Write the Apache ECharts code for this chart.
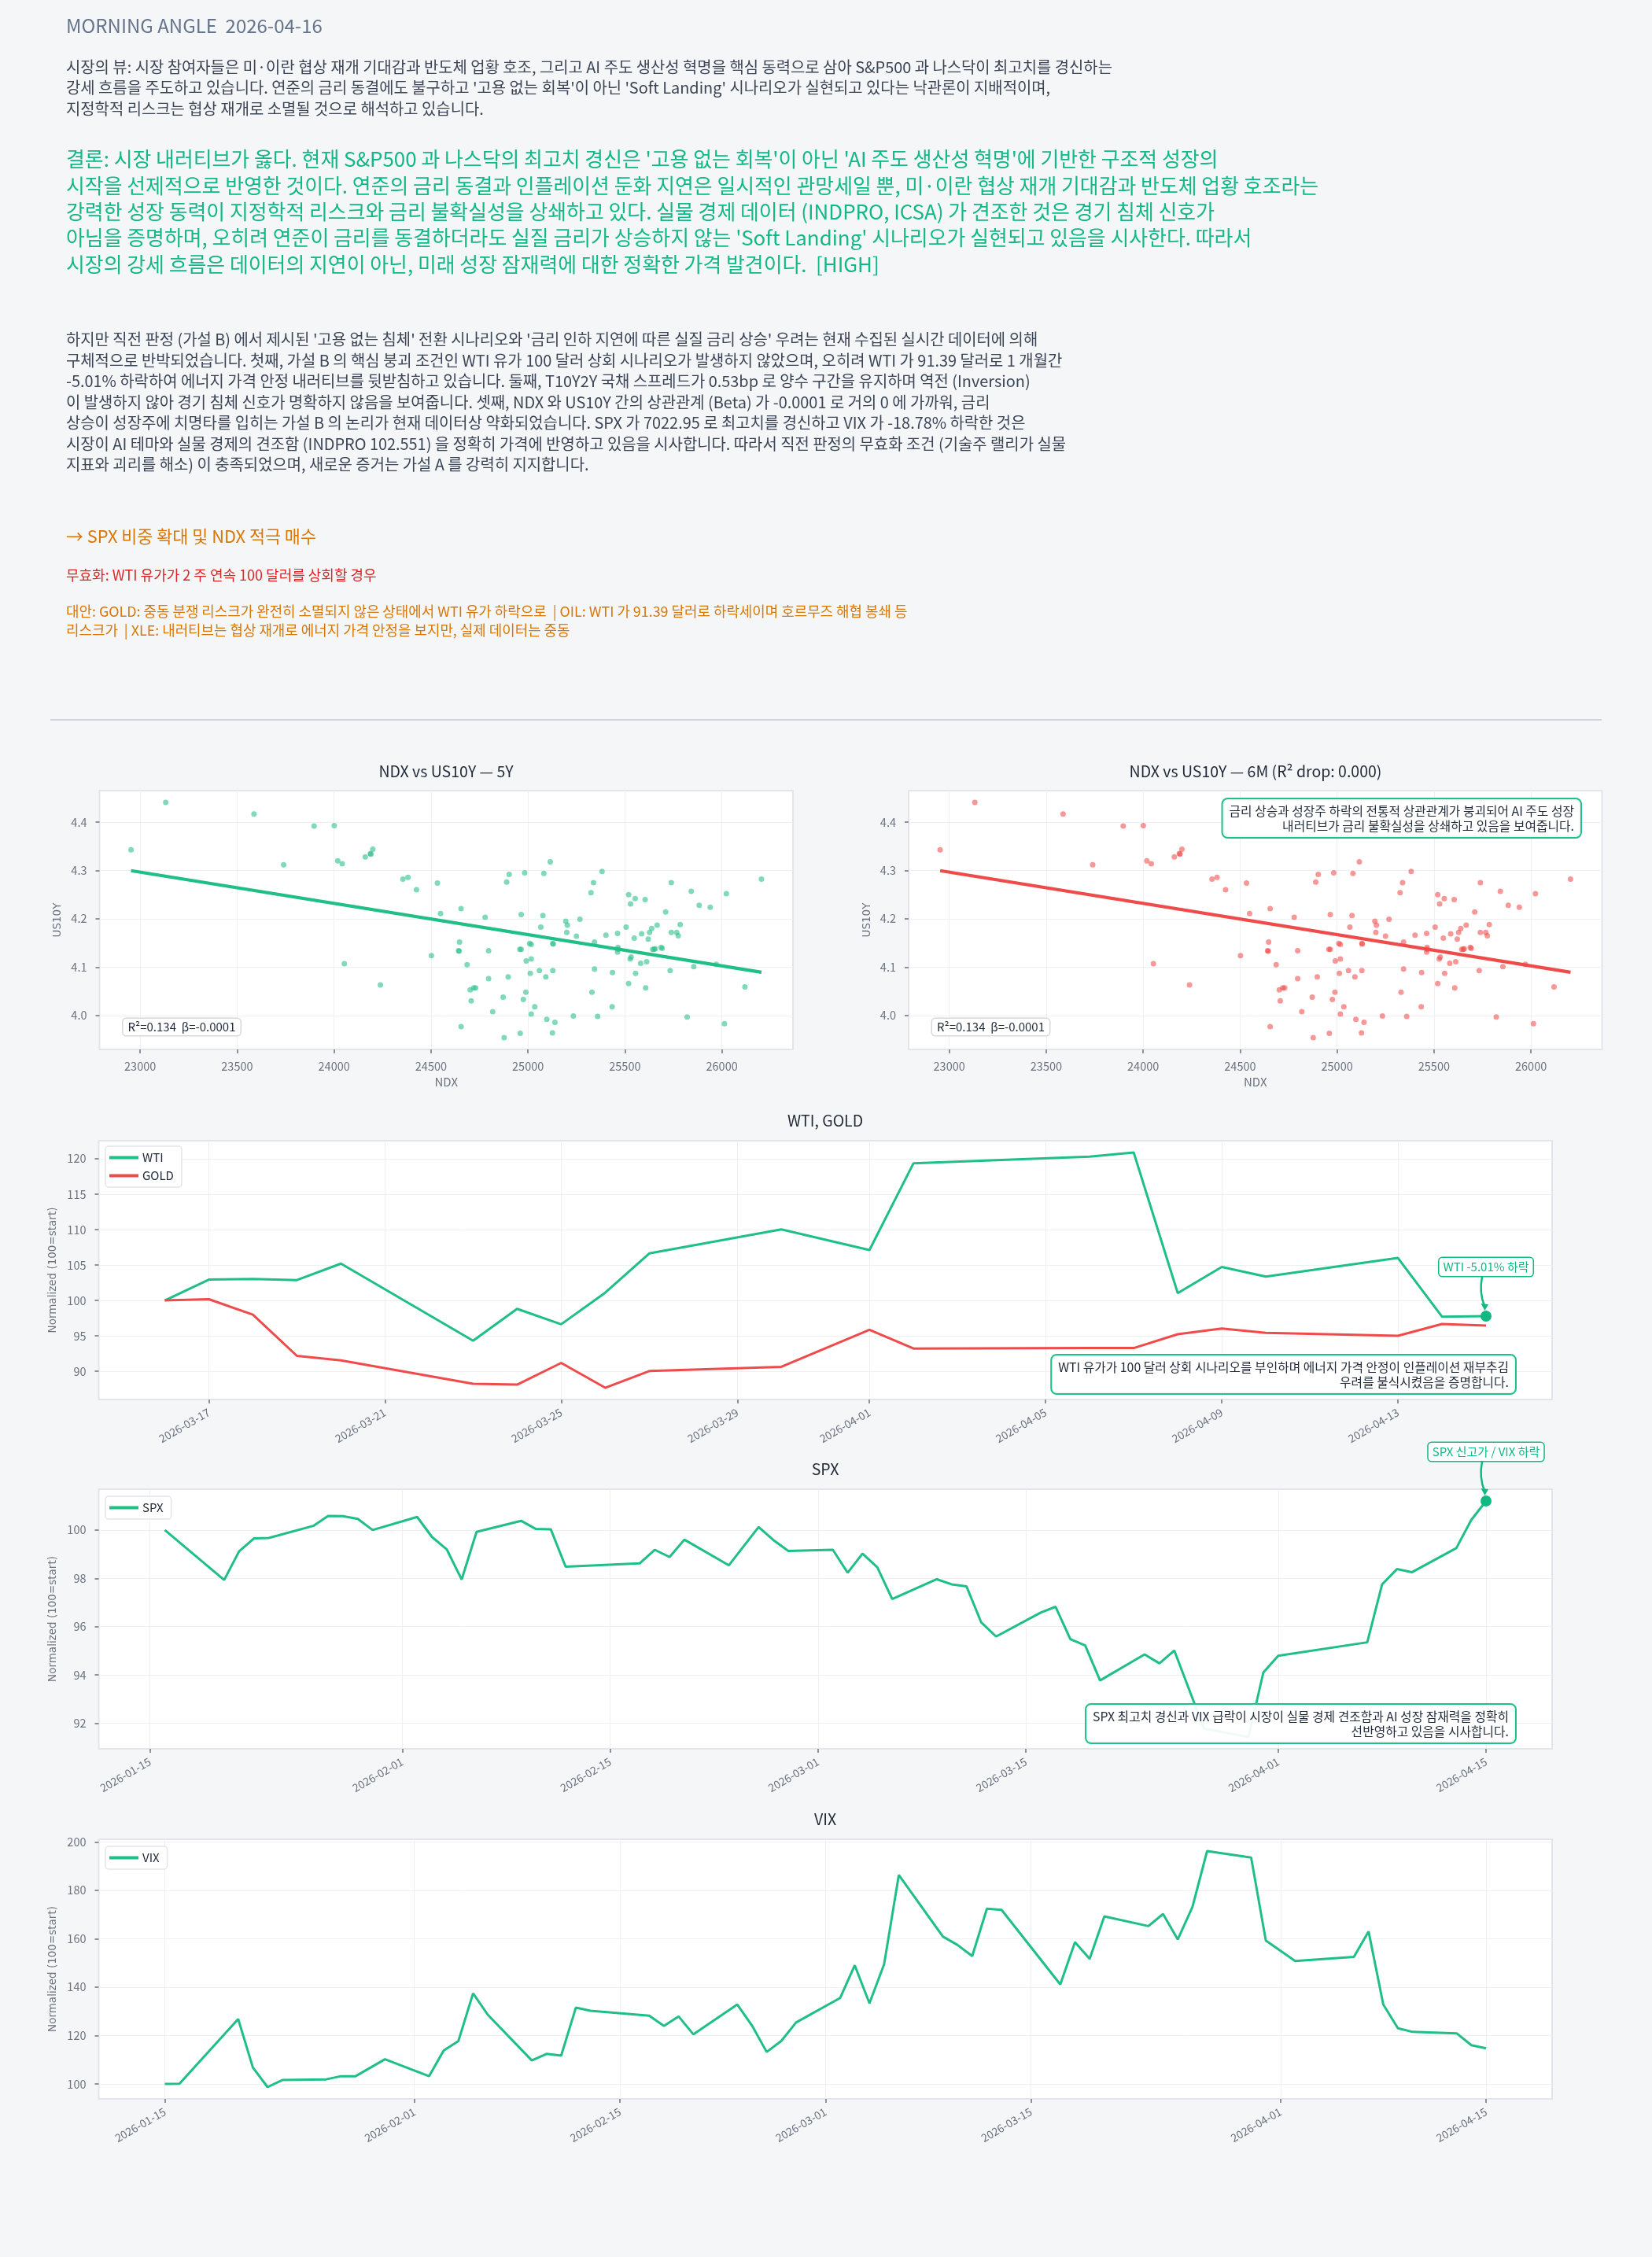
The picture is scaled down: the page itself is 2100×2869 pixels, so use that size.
<!DOCTYPE html>
<html><head><meta charset="utf-8">
<script src="https://cdn.jsdelivr.net/npm/echarts@6/dist/echarts.min.js"></script>
<style>html,body{margin:0;padding:0;background:#f5f6f8;}#c{width:2100px;height:2869px;}</style>
</head><body><div id="c"></div>
<script>
// ---------------- DATA ----------------
const ndx = [22953,23132,23587,23740,23897,24001,24019,24042,24053,24161,
24187,24190,24200,24239,24355,24381,24425,24502,24533,24549,
24642,24645,24647,24655,24655,24686,24702,24707,24720,24730,
24779,24797,24797,24818,24877,24872,24890,24898,24903,24958,
24965,24960,24965,24976,24983,24989,24991,25009,25017,25017,
25012,25017,25035,25059,25066,25077,25082,25092,25097,25115,
25126,25128,25128,25130,25139,25195,25203,25200,25234,25250,
25268,25325,25330,25338,25343,25343,25359,25382,25402,25436,
25434,25462,25464,25464,25462,25506,25519,25529,25519,25527,
25532,25548,25553,25555,25581,25586,25604,25607,25612,25620,
25627,25638,25643,25651,25656,25666,25687,25692,25710,25733,
25739,25739,25767,25775,25785,25821,25842,25855,25883,25940,
25971,26013,26023,26119,26204];
const us10y = [4.343,4.441,4.417,4.312,4.392,4.393,4.320,4.314,4.107,4.328,
4.335,4.334,4.344,4.063,4.282,4.286,4.260,4.124,4.274,4.211,
4.134,4.133,4.152,4.221,3.977,4.105,4.053,4.030,4.057,4.057,
4.203,4.134,4.076,4.008,3.954,4.038,4.276,4.080,4.292,4.137,
4.137,3.963,4.209,4.033,4.295,4.048,4.113,4.149,4.147,4.117,
4.087,4.003,4.018,4.093,4.183,4.207,4.294,4.080,3.992,4.318,
3.964,4.093,4.149,4.148,3.986,4.195,4.187,4.172,3.999,4.164,
4.199,4.254,4.048,4.275,4.096,4.152,3.998,4.298,4.166,4.089,
4.018,4.170,4.141,4.137,4.131,4.183,4.250,4.231,4.066,4.117,
4.121,4.160,4.242,4.087,4.108,4.169,4.240,4.057,4.111,4.158,
4.172,4.180,4.137,4.137,4.138,4.187,4.141,4.139,4.214,4.093,
4.172,4.275,4.172,4.165,4.188,3.997,4.257,4.101,4.228,4.224,
4.106,3.983,4.252,4.059,4.282];
const regX = [22953, 26204];
const regY = [4.2997, 4.0894];
const scatterXTicks = [23000,23500,24000,24500,25000,25500,26000];
const scatterYTicks = [4.0,4.1,4.2,4.3,4.4];

const cmdDates = ['2026-03-16','2026-03-17','2026-03-18','2026-03-19','2026-03-20','2026-03-23','2026-03-24','2026-03-25','2026-03-26','2026-03-27','2026-03-30','2026-04-01','2026-04-02','2026-04-06','2026-04-07','2026-04-08','2026-04-09','2026-04-10','2026-04-13','2026-04-14','2026-04-15'];
const wti  = [100,102.95,103.03,102.88,105.2,94.32,98.82,96.64,101.1,106.64,110.04,107.12,119.37,120.3,120.89,101.03,104.72,103.36,106.0,97.71,97.79];
const gold = [100,100.18,98.0,92.18,91.55,88.23,88.12,91.18,87.68,90.04,90.63,95.87,93.21,93.28,93.28,95.24,96.05,95.42,95.02,96.68,96.46];
const cmdXTicks = ['2026-03-17','2026-03-21','2026-03-25','2026-03-29','2026-04-01','2026-04-05','2026-04-09','2026-04-13'];
const cmdYTicks = [90,95,100,105,110,115,120];

const spxDates = ['2026-01-16','2026-01-20','2026-01-21','2026-01-22','2026-01-23','2026-01-26','2026-01-27','2026-01-28','2026-01-29','2026-01-30',
'2026-02-02','2026-02-03','2026-02-04','2026-02-05','2026-02-06','2026-02-09','2026-02-10','2026-02-11','2026-02-12','2026-02-17',
'2026-02-18','2026-02-19','2026-02-20','2026-02-23','2026-02-25','2026-02-26','2026-02-27','2026-03-02','2026-03-03','2026-03-04',
'2026-03-05','2026-03-06','2026-03-09','2026-03-10','2026-03-11','2026-03-12','2026-03-13','2026-03-16','2026-03-17','2026-03-18',
'2026-03-19','2026-03-20','2026-03-23','2026-03-24','2026-03-25','2026-03-27','2026-03-30','2026-03-31','2026-04-01','2026-04-07',
'2026-04-08','2026-04-09','2026-04-10','2026-04-13','2026-04-14','2026-04-15'];
const spx = [100,97.93,99.11,99.65,99.67,100.17,100.58,100.57,100.46,100.0,
100.54,99.71,99.19,97.95,99.92,100.38,100.04,100.03,98.48,98.62,
99.18,98.88,99.6,98.54,100.12,99.58,99.13,99.18,98.23,99.02,
98.45,97.14,97.96,97.75,97.67,96.17,95.59,96.58,96.82,95.48,
95.22,93.77,94.85,94.48,95.01,91.78,91.43,94.1,94.79,95.35,
97.75,98.38,98.25,99.25,100.41,101.2];
const spxYTicks = [92,94,96,98,100];

const vixDates = ['2026-01-15','2026-01-16','2026-01-20','2026-01-21','2026-01-22','2026-01-23','2026-01-26','2026-01-27','2026-01-28','2026-01-30',
'2026-02-02','2026-02-03','2026-02-04','2026-02-05','2026-02-06','2026-02-09','2026-02-10','2026-02-11','2026-02-12','2026-02-13',
'2026-02-17','2026-02-18','2026-02-19','2026-02-20','2026-02-23','2026-02-24','2026-02-25','2026-02-26','2026-02-27','2026-03-02',
'2026-03-03','2026-03-04','2026-03-05','2026-03-06','2026-03-09','2026-03-10','2026-03-11','2026-03-12','2026-03-13','2026-03-17',
'2026-03-18','2026-03-19','2026-03-20','2026-03-23','2026-03-24','2026-03-25','2026-03-26','2026-03-27','2026-03-30','2026-03-31',
'2026-04-02','2026-04-06','2026-04-07','2026-04-08','2026-04-09','2026-04-10','2026-04-13','2026-04-14','2026-04-15'];
const vix = [100,100.1,126.8,106.8,98.7,101.6,101.9,103.2,103.2,110.2,
103.2,113.8,117.7,137.4,128.6,109.7,112.4,111.7,131.5,130.2,
128.2,124.0,127.9,120.5,132.8,124.1,113.2,117.8,125.4,135.5,
149.0,133.3,149.5,186.3,160.9,157.4,152.8,172.4,171.9,141.1,
158.6,151.7,169.2,165.2,170.2,159.7,173.1,196.2,193.5,159.2,
150.8,152.5,163.0,132.8,123.0,121.5,120.9,116.0,114.7];
const vixYTicks = [100,120,140,160,180,200];
const longXTicks = ['2026-01-15','2026-02-01','2026-02-15','2026-03-01','2026-03-15','2026-04-01','2026-04-15'];

// ---------------- TEXT ----------------
const headerTitle = 'MORNING ANGLE  2026-04-16';
const viewLines = [
 '시장의 뷰: 시장 참여자들은 미·이란 협상 재개 기대감과 반도체 업황 호조, 그리고 AI 주도 생산성 혁명을 핵심 동력으로 삼아 S&P500 과 나스닥이 최고치를 경신하는',
 "강세 흐름을 주도하고 있습니다. 연준의 금리 동결에도 불구하고 '고용 없는 회복'이 아닌 'Soft Landing' 시나리오가 실현되고 있다는 낙관론이 지배적이며,",
 '지정학적 리스크는 협상 재개로 소멸될 것으로 해석하고 있습니다.'];
const conclusionLines = [
 "결론: 시장 내러티브가 옳다. 현재 S&P500 과 나스닥의 최고치 경신은 '고용 없는 회복'이 아닌 'AI 주도 생산성 혁명'에 기반한 구조적 성장의",
 '시작을 선제적으로 반영한 것이다. 연준의 금리 동결과 인플레이션 둔화 지연은 일시적인 관망세일 뿐, 미·이란 협상 재개 기대감과 반도체 업황 호조라는',
 '강력한 성장 동력이 지정학적 리스크와 금리 불확실성을 상쇄하고 있다. 실물 경제 데이터 (INDPRO, ICSA) 가 견조한 것은 경기 침체 신호가',
 "아님을 증명하며, 오히려 연준이 금리를 동결하더라도 실질 금리가 상승하지 않는 'Soft Landing' 시나리오가 실현되고 있음을 시사한다. 따라서",
 '시장의 강세 흐름은 데이터의 지연이 아닌, 미래 성장 잠재력에 대한 정확한 가격 발견이다.  [HIGH]'];
const bodyLines = [
 "하지만 직전 판정 (가설 B) 에서 제시된 '고용 없는 침체' 전환 시나리오와 '금리 인하 지연에 따른 실질 금리 상승' 우려는 현재 수집된 실시간 데이터에 의해",
 '구체적으로 반박되었습니다. 첫째, 가설 B 의 핵심 붕괴 조건인 WTI 유가 100 달러 상회 시나리오가 발생하지 않았으며, 오히려 WTI 가 91.39 달러로 1 개월간',
 '-5.01% 하락하여 에너지 가격 안정 내러티브를 뒷받침하고 있습니다. 둘째, T10Y2Y 국채 스프레드가 0.53bp 로 양수 구간을 유지하며 역전 (Inversion)',
 '이 발생하지 않아 경기 침체 신호가 명확하지 않음을 보여줍니다. 셋째, NDX 와 US10Y 간의 상관관계 (Beta) 가 -0.0001 로 거의 0 에 가까워, 금리',
 '상승이 성장주에 치명타를 입히는 가설 B 의 논리가 현재 데이터상 약화되었습니다. SPX 가 7022.95 로 최고치를 경신하고 VIX 가 -18.78% 하락한 것은',
 '시장이 AI 테마와 실물 경제의 견조함 (INDPRO 102.551) 을 정확히 가격에 반영하고 있음을 시사합니다. 따라서 직전 판정의 무효화 조건 (기술주 랠리가 실물',
 '지표와 괴리를 해소) 이 충족되었으며, 새로운 증거는 가설 A 를 강력히 지지합니다.'];
const actionText = '→ SPX 비중 확대 및 NDX 적극 매수';
const invalidText = '무효화: WTI 유가가 2 주 연속 100 달러를 상회할 경우';
const altLines = [
 '대안: GOLD: 중동 분쟁 리스크가 완전히 소멸되지 않은 상태에서 WTI 유가 하락으로  | OIL: WTI 가 91.39 달러로 하락세이며 호르무즈 해협 봉쇄 등',
 '리스크가  | XLE: 내러티브는 협상 재개로 에너지 가격 안정을 보지만, 실제 데이터는 중동'];
const statsText = 'R²=0.134  β=-0.0001';
const scatterNote = '금리 상승과 성장주 하락의 전통적 상관관계가 붕괴되어 AI 주도 성장\n내러티브가 금리 불확실성을 상쇄하고 있음을 보여줍니다.';
const wtiNote = 'WTI 유가가 100 달러 상회 시나리오를 부인하며 에너지 가격 안정이 인플레이션 재부추김\n우려를 불식시켰음을 증명합니다.';
const spxNote = 'SPX 최고치 경신과 VIX 급락이 시장이 실물 경제 견조함과 AI 성장 잠재력을 정확히\n선반영하고 있음을 시사합니다.';
const wtiTag = 'WTI -5.01% 하락';
const spxTag = 'SPX 신고가 / VIX 하락';

// ---------------- HELPERS ----------------
const FONT = '"Noto Sans CJK KR","Noto Sans",sans-serif';
const DV = '"DejaVu Sans",sans-serif';
const GREEN = '#1fbf86', RED = '#ef4b4b', DOT = '#10b981';
const GRAY = '#6b7280', DARK = '#1f2937';
const ts = s => { const [y,m,d] = s.split('-').map(Number); return Date.UTC(y,m-1,d); };
const pad2 = n => (n<10?'0':'')+n;
const fmtDate = v => { const d = new Date(v); return d.getUTCFullYear()+'-'+pad2(d.getUTCMonth()+1)+'-'+pad2(d.getUTCDate()); };
function padRange(arr){ const mn=Math.min(...arr), mx=Math.max(...arr), p=(mx-mn)*0.05; return [mn-p, mx+p]; }
const zip = (a,b) => a.map((v,i)=>[v,b[i]]);

const grids = [
 {left:126.5, top:1005, width:881.5, height:329},
 {left:1155, top:1005, width:881.5, height:329},
 {left:125.5, top:1450, width:1847.5, height:329},
 {left:125.5, top:1893, width:1847.5, height:330},
 {left:125.5, top:2338, width:1847.5, height:330}
].map(g => Object.assign({show:true, backgroundColor:'#ffffff', borderColor:'#e3e5ea', borderWidth:2, containLabel:false, outerBoundsMode:'none'}, g));

function axis(gridIndex, range, ticks, fmt, extra){
  return Object.assign({
    type:'value', gridIndex, min:range[0], max:range[1], scale:true,
    axisLine:{show:false},
    axisTick:{show:true, length:5, lineStyle:{color:GRAY, width:1.5}, customValues:ticks},
    axisLabel:{customValues:ticks, formatter:fmt, color:GRAY, fontSize:14.5, fontFamily:FONT, margin:14},
    splitLine:{show:true, lineStyle:{color:'#eef0f3', width:1}}
  }, extra || {});
}

const sxR = padRange(ndx), syR = padRange(us10y);
const cmdT = cmdDates.map(ts), spxT = spxDates.map(ts), vixT = vixDates.map(ts);
const cmdXR = padRange(cmdT), cmdYR = padRange(wti.concat(gold));
const spxXR = padRange(spxT), spxYR = padRange(spx);
const vixXR = padRange(vixT), vixYR = padRange(vix);

const xName = {name:'NDX', nameLocation:'middle', nameGap:34, nameTextStyle:{color:GRAY, fontSize:15, fontFamily:FONT}};
const yName = n => ({name:n, nameLocation:'middle', nameGap:46, nameTextStyle:{color:GRAY, fontSize:13.5, fontFamily:DV}});
const rotLabel = {rotate:30, margin:15, fontSize:14};

function dateAxis(gi, range, ticks){
  const a = axis(gi, range, ticks.map(ts), fmtDate);
  Object.assign(a.axisLabel, rotLabel);
  return a;
}

const xAxes = [
  axis(0, sxR, scatterXTicks, v=>String(Math.round(v)), xName),
  axis(1, sxR, scatterXTicks, v=>String(Math.round(v)), xName),
  dateAxis(2, cmdXR, cmdXTicks),
  dateAxis(3, spxXR, longXTicks),
  dateAxis(4, vixXR, longXTicks)
];
const yAxes = [
  axis(0, syR, scatterYTicks, v=>v.toFixed(1), yName('US10Y')),
  axis(1, syR, scatterYTicks, v=>v.toFixed(1), yName('US10Y')),
  axis(2, cmdYR, cmdYTicks, v=>String(v), yName('Normalized (100=start)')),
  axis(3, spxYR, spxYTicks, v=>String(v), yName('Normalized (100=start)')),
  axis(4, vixYR, vixYTicks, v=>String(v), yName('Normalized (100=start)'))
];
yAxes.forEach(a => { a.axisLabel.margin = 16; });

const lineS = (name, gi, xs, ys, color, extra) => Object.assign({
  name, type:'line', xAxisIndex:gi, yAxisIndex:gi, data:zip(xs, ys),
  symbol:'none', lineStyle:{width:3, color}, itemStyle:{color}, z:3
}, extra || {});
const lastMark = (x, y) => ({symbol:'circle', symbolSize:14, silent:true, itemStyle:{color:DOT}, label:{show:false}, data:[{coord:[x,y]}]});

const series = [
  {name:'s5y', type:'scatter', xAxisIndex:0, yAxisIndex:0, data:zip(ndx, us10y), symbolSize:7, itemStyle:{color:'#2bbf8a', opacity:0.6}},
  lineS('reg5y', 0, regX, regY, GREEN, {lineStyle:{width:4.2, color:GREEN}}),
  {name:'s6m', type:'scatter', xAxisIndex:1, yAxisIndex:1, data:zip(ndx, us10y), symbolSize:7, itemStyle:{color:'#ef4444', opacity:0.55}},
  lineS('reg6m', 1, regX, regY, RED, {lineStyle:{width:4.2, color:RED}}),
  lineS('WTI', 2, cmdT, wti, GREEN, {markPoint:lastMark(cmdT[cmdT.length-1], wti[wti.length-1])}),
  lineS('GOLD', 2, cmdT, gold, RED),
  lineS('SPX', 3, spxT, spx, GREEN, {markPoint:lastMark(spxT[spxT.length-1], spx[spx.length-1])}),
  lineS('VIX', 4, vixT, vix, GREEN)
];

const legendBase = {orient:'vertical', icon:'rect', itemWidth:37, itemHeight:4, itemGap:8,
  backgroundColor:'#ffffff', borderColor:'#e3e5ea', borderWidth:1.5, borderRadius:4, padding:[7,10,7,5],
  textStyle:{fontSize:15, color:DARK, fontFamily:FONT}, selectedMode:false};
const legends = [
  Object.assign({data:['WTI','GOLD'], left:134, top:1457}, legendBase),
  Object.assign({data:['SPX'], left:134, top:1902}, legendBase),
  Object.assign({data:['VIX'], left:134, top:2347}, legendBase)
];

function T(x, y, text, o){
  const st = Object.assign({text, fill:'#374151', fontSize:18, fontFamily:FONT, align:'left', verticalAlign:'top'}, o || {});
  st.textAlign = st.align; st.textVerticalAlign = st.verticalAlign;
  return {type:'text', x, y, z:100, silent:true, style:st};
}
const noteBox = {align:'right', verticalAlign:'top', fontSize:15.8, lineHeight:19, fill:DARK,
  backgroundColor:'rgba(255,255,255,0.92)', borderColor:'#22bf88', borderWidth:2, borderRadius:6, padding:[5,8,5,8]};
const statBox = {fontSize:15, fill:DARK, backgroundColor:'#ffffff', borderColor:'#d5d8de', borderWidth:1.5, borderRadius:4, padding:[3,6,3,6]};
const titleSt = {fontSize:19.5, fill:DARK, align:'center', verticalAlign:'middle'};

const texts = [
  T(84, 33, headerTitle, {fontSize:24, fill:'#64748b', verticalAlign:'middle'}),
  T(84, 72, viewLines.join('\n'), {fontSize:19.9, lineHeight:26.5, fill:'#3b4556'}),
  T(84, 186, conclusionLines.join('\n'), {fontSize:25.9, lineHeight:33.3, fill:'#12b886'}),
  T(84, 418.5, bodyLines.join('\n'), {fontSize:19.9, lineHeight:26.5, fill:'#3b4556'}),
  T(84, 682, actionText, {fontSize:21.8, fill:'#d97706', verticalAlign:'middle'}),
  T(84, 731, invalidText, {fontSize:18, fill:'#dc2626', verticalAlign:'middle'}),
  T(84, 765, altLines.join('\n'), {fontSize:17.9, lineHeight:24, fill:'#d97706'}),
  {type:'line', z:100, silent:true, shape:{x1:64, y1:915, x2:2036, y2:915}, style:{stroke:'#d1d5db', lineWidth:2}},
  T(567, 981, 'NDX vs US10Y — 5Y', titleSt),
  T(1596, 981, 'NDX vs US10Y — 6M (R² drop: 0.000)', titleSt),
  T(1049, 1425, 'WTI, GOLD', titleSt),
  T(1049, 1868, 'SPX', titleSt),
  T(1049, 2313, 'VIX', titleSt),
  T(156.5, 1295, statsText, statBox),
  T(1185, 1295, statsText, statBox),
  T(2009, 1016, scatterNote, noteBox),
  T(1926, 1723, wtiNote, noteBox),
  T(1926, 2167, spxNote, noteBox)
];

const option = {
  backgroundColor:'#f5f6f8', animation:false,
  grid:grids, xAxis:xAxes, yAxis:yAxes, series, legend:legends, graphic:texts
};

const chart = echarts.init(document.getElementById('c'), null, {width:2100, height:2869});
chart.setOption(option);

function tag(gi, x, y, label){
  const p = chart.convertToPixel({gridIndex:gi}, [x, y]);
  const px = p[0], py = p[1];
  const bb = py - 51;
  return [
    T(px, bb, label, {align:'center', verticalAlign:'bottom', fontSize:15, lineHeight:17, fill:DOT,
      backgroundColor:'#ffffff', borderColor:DOT, borderWidth:1.5, borderRadius:4, padding:[3,5,3,5]}),
    {type:'bezierCurve', z:100, silent:true, shape:{x1:px-5, y1:bb+1, x2:px-2, y2:py-13, cpx1:px-9, cpy1:py-30},
      style:{stroke:DOT, lineWidth:2.5, fill:null}},
    {type:'polygon', z:100, silent:true, shape:{points:[[px-6.5,py-16],[px+3,py-15],[px-1.5,py-7]]}, style:{fill:DOT}}
  ];
}
const extra = [].concat(
  tag(2, cmdT[cmdT.length-1], wti[wti.length-1], wtiTag),
  tag(3, spxT[spxT.length-1], spx[spx.length-1], spxTag)
);
option.graphic = texts.concat(extra);
chart.setOption(option, true);
</script></body></html>
